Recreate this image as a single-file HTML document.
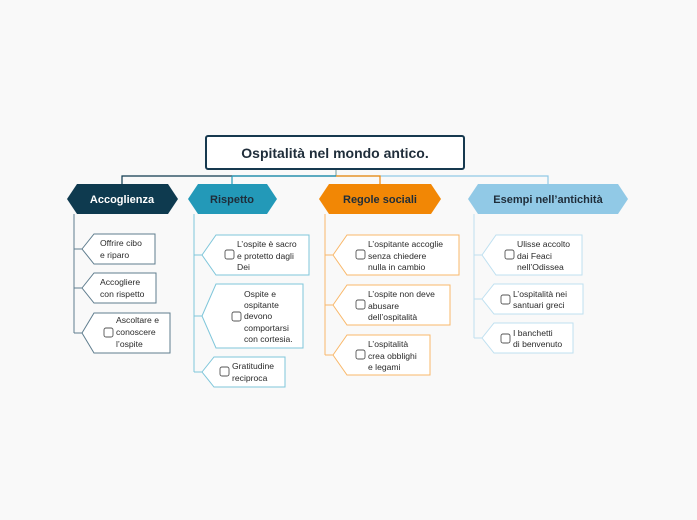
<!DOCTYPE html>
<html><head><meta charset="utf-8"><style>
html,body{margin:0;padding:0;background:#f9f9f9;}
svg{display:block;font-family:"Liberation Sans",sans-serif;}
.t{font-size:8.6px;fill:#2a2a2a;}
.cb{fill:#fff;stroke:#555;stroke-width:0.9;}
</style></head><body>
<svg width="697" height="520" viewBox="0 0 697 520">
<rect width="697" height="520" fill="#f9f9f9"/>
<!-- top connectors -->
<line x1="336" y1="169" x2="336" y2="176" stroke="#8aa" stroke-width="1.2"/>
<polyline points="336,176 548,176 548,184" fill="none" stroke="#91c9e6" stroke-width="1.2"/>
<polyline points="336,176 380,176 380,184" fill="none" stroke="#f28705" stroke-width="1.2"/>
<polyline points="336,176 122,176 122,184" fill="none" stroke="#0e3a4f" stroke-width="1.2"/>
<polyline points="232,176 232,184" fill="none" stroke="#2399b8" stroke-width="1.2"/>
<line x1="232" y1="176" x2="336" y2="176" stroke="#2399b8" stroke-width="1.2"/>
<!-- root -->
<rect x="206" y="136" width="258" height="33" rx="2" fill="#fff" stroke="#17394f" stroke-width="2"/>
<text x="335" y="158" text-anchor="middle" font-size="14" font-weight="bold" fill="#1f2d3a">Ospitalità nel mondo antico.</text>
<!-- main nodes -->
<polygon points="67,199 77,184 168,184 178,199 168,214 77,214" fill="#0e3a4f"/>
<text x="122" y="203" text-anchor="middle" font-size="11" font-weight="bold" fill="#fff">Accoglienza</text>
<polygon points="188,199 198,184 267,184 277,199 267,214 198,214" fill="#2399b8"/>
<text x="232" y="203" text-anchor="middle" font-size="11" font-weight="bold" fill="#1f2d3a">Rispetto</text>
<polygon points="319,199 329,184 431,184 441,199 431,214 329,214" fill="#f28705"/>
<text x="380" y="203" text-anchor="middle" font-size="11" font-weight="bold" fill="#1f2d3a">Regole sociali</text>
<polygon points="468,199 478,184 618,184 628,199 618,214 478,214" fill="#91c9e6"/>
<text x="548" y="203" text-anchor="middle" font-size="11" font-weight="bold" fill="#1f2d3a">Esempi nell’antichità</text>

<!-- Accoglienza children -->
<g fill="#fff" stroke="#5f7d8e" stroke-width="1">
<polyline points="74,214 74,333" fill="none"/>
<line x1="74" y1="249" x2="82" y2="249"/><line x1="74" y1="288" x2="82" y2="288"/><line x1="74" y1="333" x2="82" y2="333"/>
<polygon points="82,249 94,234 155,234 155,264 94,264"/>
<polygon points="82,288 94,273 156,273 156,303 94,303"/>
<polygon points="82,333 94,313 170,313 170,353 94,353"/>
</g>
<text class="t" x="100" y="246">Offrire cibo</text><text class="t" x="100" y="258">e riparo</text>
<text class="t" x="100" y="285">Accogliere</text><text class="t" x="100" y="297">con rispetto</text>
<rect class="cb" x="104" y="328" width="9" height="9" rx="2"/>
<text class="t" x="116" y="323">Ascoltare e</text><text class="t" x="116" y="335">conoscere</text><text class="t" x="116" y="347">l’ospite</text>

<!-- Rispetto children -->
<g fill="#fff" stroke="#7fc6da" stroke-width="1">
<polyline points="194,214 194,372" fill="none"/>
<line x1="194" y1="255" x2="202" y2="255"/><line x1="194" y1="316" x2="202" y2="316"/><line x1="194" y1="372" x2="202" y2="372"/>
<polygon points="202,255 216,235 309,235 309,275 216,275"/>
<polygon points="202,316 216,284 303,284 303,348 216,348"/>
<polygon points="202,372 214,357 285,357 285,387 214,387"/>
</g>
<rect class="cb" x="225" y="250" width="9" height="9" rx="2"/>
<text class="t" x="237" y="247">L’ospite è sacro</text><text class="t" x="237" y="259">e protetto dagli</text><text class="t" x="237" y="270">Dei</text>
<rect class="cb" x="232" y="312" width="9" height="9" rx="2"/>
<text class="t" x="244" y="297">Ospite e</text><text class="t" x="244" y="308">ospitante</text><text class="t" x="244" y="319">devono</text><text class="t" x="244" y="331">comportarsi</text><text class="t" x="244" y="342">con cortesia.</text>
<rect class="cb" x="220" y="367" width="9" height="9" rx="2"/>
<text class="t" x="232" y="369">Gratitudine</text><text class="t" x="232" y="381">reciproca</text>

<!-- Regole children -->
<g fill="#fff" stroke="#f9b86a" stroke-width="1">
<polyline points="325,214 325,355" fill="none"/>
<line x1="325" y1="255" x2="333" y2="255"/><line x1="325" y1="305" x2="333" y2="305"/><line x1="325" y1="355" x2="333" y2="355"/>
<polygon points="333,255 347,235 459,235 459,275 347,275"/>
<polygon points="333,305 347,285 450,285 450,325 347,325"/>
<polygon points="333,355 347,335 430,335 430,375 347,375"/>
</g>
<rect class="cb" x="356" y="250" width="9" height="9" rx="2"/>
<text class="t" x="368" y="247">L’ospitante accoglie</text><text class="t" x="368" y="259">senza chiedere</text><text class="t" x="368" y="270">nulla in cambio</text>
<rect class="cb" x="356" y="300" width="9" height="9" rx="2"/>
<text class="t" x="368" y="297">L’ospite non deve</text><text class="t" x="368" y="309">abusare</text><text class="t" x="368" y="320">dell’ospitalità</text>
<rect class="cb" x="356" y="350" width="9" height="9" rx="2"/>
<text class="t" x="368" y="347">L’ospitalità</text><text class="t" x="368" y="359">crea obblighi</text><text class="t" x="368" y="370">e legami</text>

<!-- Esempi children -->
<g fill="#fff" stroke="#bfe0f0" stroke-width="1">
<polyline points="474,214 474,338" fill="none"/>
<line x1="474" y1="255" x2="482" y2="255"/><line x1="474" y1="299" x2="482" y2="299"/><line x1="474" y1="338" x2="482" y2="338"/>
<polygon points="482,255 496,235 582,235 582,275 496,275"/>
<polygon points="482,299 494,284 583,284 583,314 494,314"/>
<polygon points="482,338 494,323 573,323 573,353 494,353"/>
</g>
<rect class="cb" x="505" y="250" width="9" height="9" rx="2"/>
<text class="t" x="517" y="247">Ulisse accolto</text><text class="t" x="517" y="259">dai Feaci</text><text class="t" x="517" y="270">nell’Odissea</text>
<rect class="cb" x="501" y="295" width="9" height="9" rx="2"/>
<text class="t" x="513" y="297">L’ospitalità nei</text><text class="t" x="513" y="308">santuari greci</text>
<rect class="cb" x="501" y="334" width="9" height="9" rx="2"/>
<text class="t" x="513" y="336">I banchetti</text><text class="t" x="513" y="347">di benvenuto</text>
</svg>
</body></html>
